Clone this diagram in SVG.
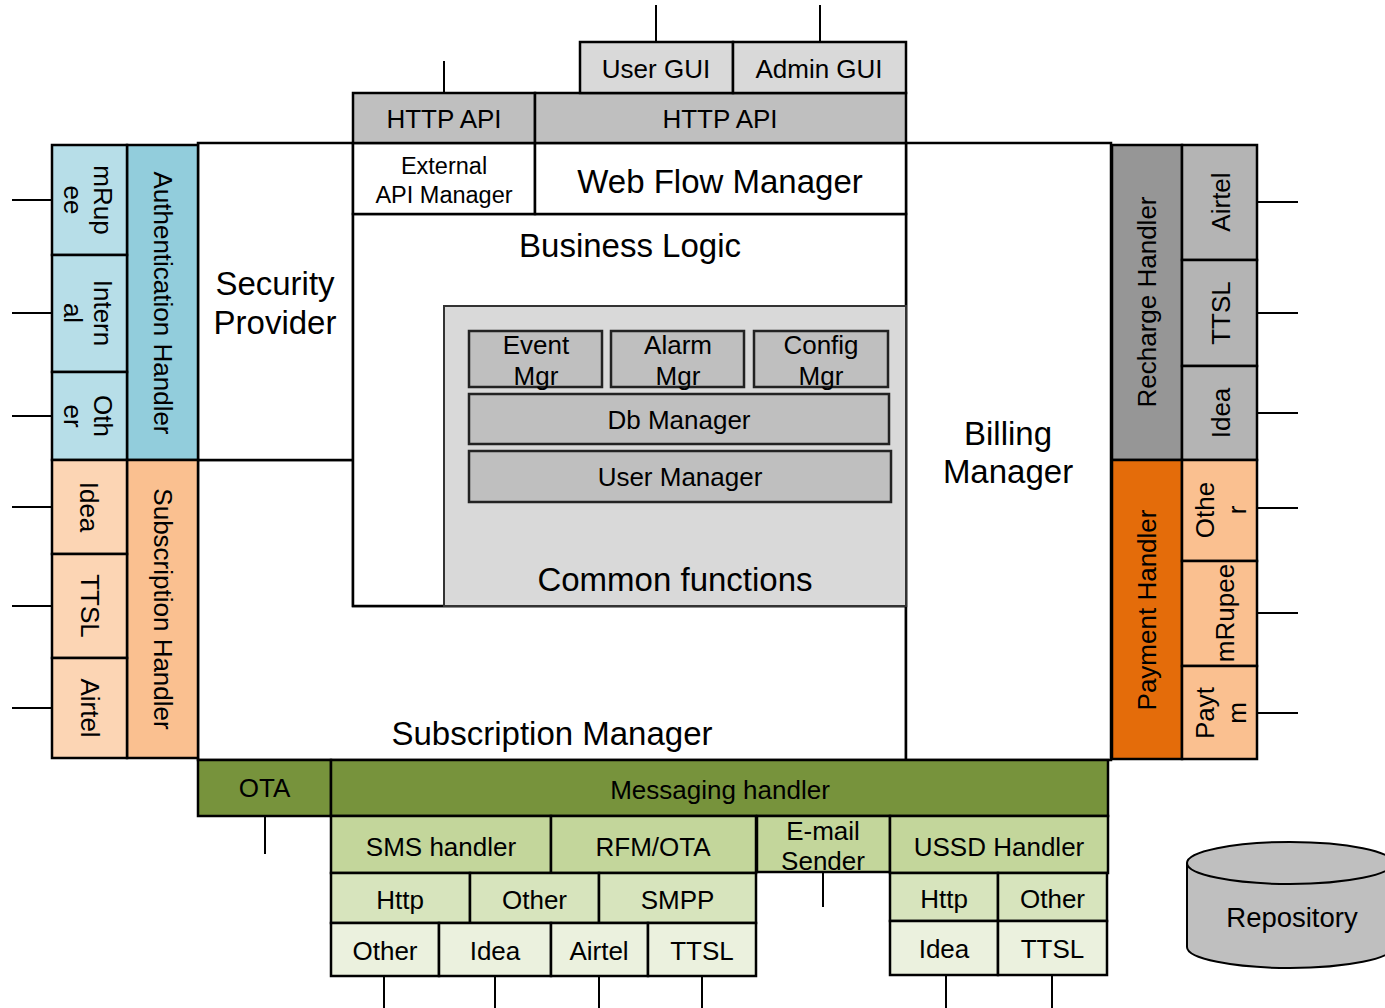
<svg xmlns="http://www.w3.org/2000/svg" width="1385" height="1008" viewBox="0 0 1385 1008">
<style>
text{font-family:"Liberation Sans",Arial,sans-serif;fill:#000;text-anchor:middle}
.f33{font-size:33px}.f26{font-size:26px}.f23{font-size:23.5px}.f28{font-size:27.5px}
.bx{stroke:#000;stroke-width:2.5}
.ln{stroke:#000;stroke-width:2;fill:none}
.white{fill:#fff}
.gui{fill:#d9d9d9}.api{fill:#bfbfbf}
.cf{fill:#d9d9d9;stroke:#333;stroke-width:2}
.mgr{fill:#bfbfbf;stroke:#222;stroke-width:2.5}
.auth{fill:#92cddc}.authS{fill:#b7dee8}
.sub{fill:#fac090}.subS{fill:#fcd5b4}
.rch{fill:#969696}.rchS{fill:#b4b4b4}
.pay{fill:#e46c0a}.payS{fill:#fac090}
.g1{fill:#77933c}.g2{fill:#c3d69b}.g3{fill:#d7e4bd}.g4{fill:#ebf1de}
</style>

<g id="connectors">
<line class="ln" x1="444" y1="61" x2="444" y2="93"/>
<line class="ln" x1="656" y1="5" x2="656" y2="42"/>
<line class="ln" x1="820" y1="5" x2="820" y2="42"/>
<line class="ln" x1="12" y1="200" x2="52" y2="200"/>
<line class="ln" x1="12" y1="313" x2="52" y2="313"/>
<line class="ln" x1="12" y1="416" x2="52" y2="416"/>
<line class="ln" x1="12" y1="507" x2="52" y2="507"/>
<line class="ln" x1="12" y1="606" x2="52" y2="606"/>
<line class="ln" x1="12" y1="708" x2="52" y2="708"/>
<line class="ln" x1="1257" y1="202" x2="1298" y2="202"/>
<line class="ln" x1="1257" y1="313" x2="1298" y2="313"/>
<line class="ln" x1="1257" y1="413" x2="1298" y2="413"/>
<line class="ln" x1="1257" y1="508" x2="1298" y2="508"/>
<line class="ln" x1="1257" y1="613" x2="1298" y2="613"/>
<line class="ln" x1="1257" y1="713" x2="1298" y2="713"/>
<line class="ln" x1="265" y1="816" x2="265" y2="854"/>
<line class="ln" x1="823" y1="872" x2="823" y2="907"/>
<line class="ln" x1="384" y1="976" x2="384" y2="1008"/>
<line class="ln" x1="495" y1="976" x2="495" y2="1008"/>
<line class="ln" x1="599" y1="976" x2="599" y2="1008"/>
<line class="ln" x1="702" y1="976" x2="702" y2="1008"/>
<line class="ln" x1="946" y1="975" x2="946" y2="1008"/>
<line class="ln" x1="1052" y1="975" x2="1052" y2="1008"/>
</g>

<g id="subscription-manager">
<polygon class="white bx" points="198,460 353,460 353,606 906,606 906,760 198,760"/>
<text class="f33" x="552" y="745">Subscription Manager</text>
</g>
<g id="security-provider">
<rect class="white bx" x="198" y="143" width="155" height="317"/>
<text class="f33" x="275" y="295">Security</text>
<text class="f33" x="275" y="334">Provider</text>
</g>
<g id="billing-manager">
<rect class="white bx" x="906" y="143" width="205" height="617"/>
<text class="f33" x="1008" y="445">Billing</text>
<text class="f33" x="1008" y="483">Manager</text>
</g>
<g id="business-logic">
<rect class="white bx" x="353" y="214" width="553" height="392"/>
<text class="f33" x="630" y="257">Business Logic</text>
</g>
<g id="common-functions">
<rect class="cf" x="444" y="306" width="462" height="300"/>
<text class="f33" x="675" y="591">Common functions</text>
</g>
<g id="event-mgr">
<rect class="mgr" x="469" y="331" width="133" height="56"/>
<text class="f26" x="536" y="354">Event</text>
<text class="f26" x="536" y="385">Mgr</text>
</g>
<g id="alarm-mgr">
<rect class="mgr" x="611" y="331" width="133" height="56"/>
<text class="f26" x="678" y="354">Alarm</text>
<text class="f26" x="678" y="385">Mgr</text>
</g>
<g id="config-mgr">
<rect class="mgr" x="754" y="331" width="134" height="56"/>
<text class="f26" x="821" y="354">Config</text>
<text class="f26" x="821" y="385">Mgr</text>
</g>
<g id="db-manager">
<rect class="mgr" x="469" y="394" width="420" height="50"/>
<text class="f26" x="679" y="429">Db Manager</text>
</g>
<g id="user-manager">
<rect class="mgr" x="469" y="451" width="422" height="51"/>
<text class="f26" x="680" y="486">User Manager</text>
</g>

<g id="external-api-manager">
<rect class="white bx" x="353" y="143" width="182" height="71"/>
<text class="f23" x="444" y="174">External</text>
<text class="f23" x="444" y="203">API Manager</text>
</g>
<g id="web-flow-manager">
<rect class="white bx" x="535" y="143" width="371" height="71"/>
<text class="f33" x="720" y="193">Web Flow Manager</text>
</g>
<g id="http-api-left">
<rect class="api bx" x="353" y="93" width="182" height="50"/>
<text class="f26" x="444" y="128">HTTP API</text>
</g>
<g id="http-api-right">
<rect class="api bx" x="535" y="93" width="371" height="50"/>
<text class="f26" x="720" y="128">HTTP API</text>
</g>
<g id="user-gui">
<rect class="gui bx" x="580" y="42" width="153" height="51"/>
<text class="f26" x="656" y="78">User GUI</text>
</g>
<g id="admin-gui">
<rect class="gui bx" x="733" y="42" width="173" height="51"/>
<text class="f26" x="819" y="78">Admin GUI</text>
</g>

<g id="authentication-handler">
<rect class="auth bx" x="127" y="145" width="71" height="315"/>
<text class="f26" transform="translate(162.5,303) rotate(90)" y="9">Authentication Handler</text>
</g>
<g id="auth-mrupee">
<rect class="authS bx" x="52" y="145" width="75" height="110"/>
<text class="f26" transform="translate(89.5,200) rotate(90)"><tspan x="0" y="-4">mRup</tspan><tspan x="0" y="26">ee</tspan></text>
</g>
<g id="auth-internal">
<rect class="authS bx" x="52" y="255" width="75" height="117"/>
<text class="f26" transform="translate(89.5,313) rotate(90)"><tspan x="0" y="-4">Intern</tspan><tspan x="0" y="26">al</tspan></text>
</g>
<g id="auth-other">
<rect class="authS bx" x="52" y="372" width="75" height="88"/>
<text class="f26" transform="translate(89.5,416) rotate(90)"><tspan x="0" y="-4">Oth</tspan><tspan x="0" y="26">er</tspan></text>
</g>
<g id="subscription-handler">
<rect class="sub bx" x="127" y="460" width="71" height="298"/>
<text class="f26" transform="translate(162.5,609) rotate(90)" y="9">Subscription Handler</text>
</g>
<g id="sub-idea">
<rect class="subS bx" x="52" y="460" width="75" height="94"/>
<text class="f26" transform="translate(89.5,507) rotate(90)" y="10">Idea</text>
</g>
<g id="sub-ttsl">
<rect class="subS bx" x="52" y="554" width="75" height="104"/>
<text class="f26" transform="translate(89.5,606) rotate(90)" y="9">TTSL</text>
</g>
<g id="sub-airtel">
<rect class="subS bx" x="52" y="658" width="75" height="100"/>
<text class="f26" transform="translate(89.5,708) rotate(90)" y="9">Airtel</text>
</g>

<g id="recharge-handler">
<rect class="rch bx" x="1112" y="145" width="70" height="315"/>
<text class="f26" transform="translate(1147,302) rotate(-90)" y="9">Recharge Handler</text>
</g>
<g id="rch-airtel">
<rect class="rchS bx" x="1182" y="145" width="75" height="115"/>
<text class="f26" transform="translate(1219.5,202) rotate(-90)" y="10">Airtel</text>
</g>
<g id="rch-ttsl">
<rect class="rchS bx" x="1182" y="260" width="75" height="106"/>
<text class="f26" transform="translate(1219.5,313) rotate(-90)" y="10">TTSL</text>
</g>
<g id="rch-idea">
<rect class="rchS bx" x="1182" y="366" width="75" height="94"/>
<text class="f26" transform="translate(1219.5,413) rotate(-90)" y="10">Idea</text>
</g>
<g id="payment-handler">
<rect class="pay bx" x="1112" y="460" width="70" height="299"/>
<text class="f26" transform="translate(1147,610) rotate(-90)" y="9">Payment Handler</text>
</g>
<g id="pay-other">
<rect class="payS bx" x="1182" y="460" width="75" height="101"/>
<text class="f26" transform="translate(1219.5,510) rotate(-90)"><tspan x="0" y="-6">Othe</tspan><tspan x="0" y="26">r</tspan></text>
</g>
<g id="pay-mrupee">
<rect class="payS bx" x="1182" y="561" width="75" height="105"/>
<text class="f26" transform="translate(1219.5,613) rotate(-90)" y="14">mRupee</text>
</g>
<g id="pay-paytm">
<rect class="payS bx" x="1182" y="666" width="75" height="93"/>
<text class="f26" transform="translate(1219.5,713) rotate(-90)"><tspan x="0" y="-6">Payt</tspan><tspan x="0" y="26">m</tspan></text>
</g>

<g id="ota">
<rect class="g1 bx" x="198" y="760" width="133" height="56"/>
<text class="f26" x="264.5" y="797">OTA</text>
</g>
<g id="messaging-handler">
<rect class="g1 bx" x="331" y="760" width="777" height="56"/>
<text class="f26" x="720" y="799">Messaging handler</text>
</g>
<g id="sms-handler">
<rect class="g2 bx" x="331" y="816" width="220" height="57"/>
<text class="f26" x="441" y="856">SMS handler</text>
</g>
<g id="rfm-ota">
<rect class="g2 bx" x="551" y="816" width="205" height="57"/>
<text class="f26" x="653" y="856">RFM/OTA</text>
</g>
<g id="email-sender">
<rect class="g2 bx" x="757" y="816" width="133" height="56"/>
<text class="f26" x="823" y="840">E-mail</text>
<text class="f26" x="823" y="870">Sender</text>
</g>
<g id="ussd-handler">
<rect class="g2 bx" x="890" y="816" width="218" height="57"/>
<text class="f26" x="999" y="856">USSD Handler</text>
</g>
<g id="sms-http">
<rect class="g3 bx" x="331" y="873" width="139" height="50"/>
<text class="f26" x="400" y="909">Http</text>
</g>
<g id="sms-other">
<rect class="g3 bx" x="470" y="873" width="129" height="50"/>
<text class="f26" x="534.5" y="909">Other</text>
</g>
<g id="sms-smpp">
<rect class="g3 bx" x="599" y="873" width="157" height="50"/>
<text class="f26" x="677.5" y="909">SMPP</text>
</g>
<g id="op-other">
<rect class="g4 bx" x="331" y="923" width="108" height="53"/>
<text class="f26" x="385" y="960">Other</text>
</g>
<g id="op-idea">
<rect class="g4 bx" x="439" y="923" width="112" height="53"/>
<text class="f26" x="495" y="960">Idea</text>
</g>
<g id="op-airtel">
<rect class="g4 bx" x="551" y="923" width="97" height="53"/>
<text class="f26" x="599" y="960">Airtel</text>
</g>
<g id="op-ttsl">
<rect class="g4 bx" x="648" y="923" width="108" height="53"/>
<text class="f26" x="702" y="960">TTSL</text>
</g>
<g id="ussd-http">
<rect class="g3 bx" x="890" y="873" width="108" height="48"/>
<text class="f26" x="944" y="908">Http</text>
</g>
<g id="ussd-other">
<rect class="g3 bx" x="998" y="873" width="109" height="48"/>
<text class="f26" x="1052.5" y="908">Other</text>
</g>
<g id="ussd-idea">
<rect class="g4 bx" x="890" y="921" width="108" height="54"/>
<text class="f26" x="944" y="958">Idea</text>
</g>
<g id="ussd-ttsl">
<rect class="g4 bx" x="998" y="921" width="109" height="54"/>
<text class="f26" x="1052.5" y="958">TTSL</text>
</g>

<g id="repository">
<path d="M1187,863 L1187,947 A103,21 0 0 0 1393,947 L1393,863 A103,21 0 0 0 1187,863 Z" fill="#bfbfbf" stroke="#000" stroke-width="2"/>
<path d="M1187,863 A103,21 0 0 0 1393,863" fill="none" stroke="#000" stroke-width="2"/>
<text class="f28" x="1292" y="927">Repository</text>
</g>
</svg>
